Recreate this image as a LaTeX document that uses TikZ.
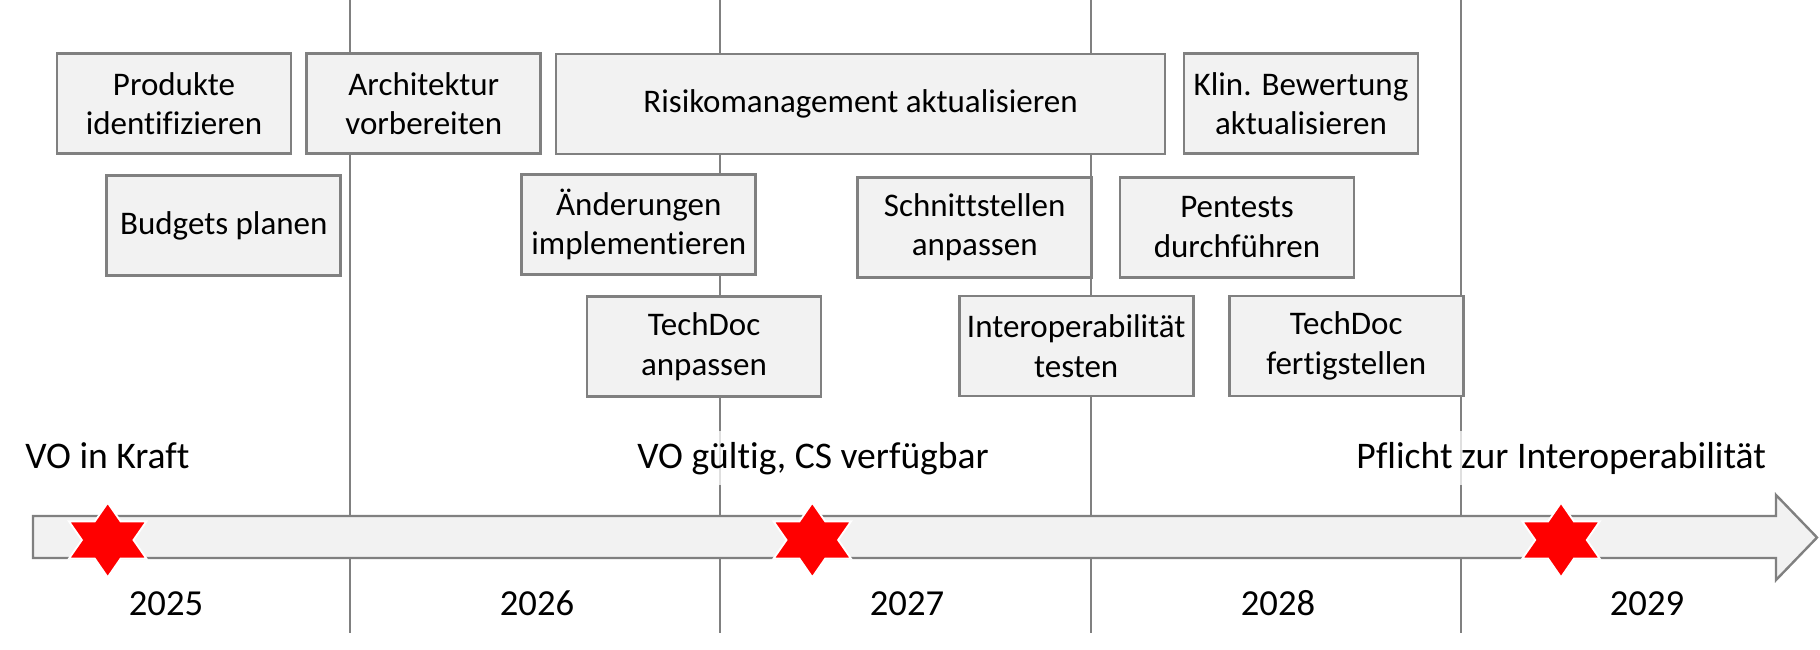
\documentclass[tikz,border=0pt]{standalone}
\usepackage{fontspec}
\setmainfont{Carlito}[Ligatures={NoCommon,NoContextual}]
\definecolor{linegray}{HTML}{808080}
\definecolor{boxfill}{HTML}{F2F2F2}
\definecolor{starred}{HTML}{FF0000}
\tikzset{
  taskbox/.style={draw=linegray, fill=boxfill, line width=1.5pt, align=center,
    inner sep=0pt, minimum width=234*0.5455pt, minimum height=100*0.5455pt,
    font=\fontsize{18}{21.6}\selectfont},
  milestone/.style={anchor=base west, inner xsep=0pt, inner ysep=6pt,
    fill=white, fill opacity=0.75, text opacity=1,
    font=\fontsize{20.5}{24}\selectfont},
  yearlabel/.style={anchor=base, inner sep=0pt, font=\fontsize{20}{24}\selectfont},
  yearline/.style={draw=linegray, line width=1.1pt},
  timearrow/.style={draw=linegray, fill=boxfill, line width=1.3pt, line join=miter},
  hexstar/.pic={
    \fill[starred, draw=white, line width=1pt]
      (90:37.3) -- (60:21.5) -- (30:37.3) -- (0:21.5) -- (-30:37.3) -- (-60:21.5)
      -- (-90:37.3) -- (-120:21.5) -- (-150:37.3) -- (180:21.5) -- (150:37.3)
      -- (120:21.5) -- cycle;
  }
}
\begin{document}
\begin{tikzpicture}[x=0.5455pt, y=-0.5455pt]
\useasboundingbox[fill=white] (0,0) rectangle (1820,650);

% year separator lines
\foreach \xx/\nm in {350/a,720/b,1091/c,1461/d}{
  \coordinate (top\nm) at (\xx,0);
  \coordinate (bot\nm) at (\xx,633);
  \draw[yearline] (top\nm) -- (bot\nm);
}

% milestone labels
\node[milestone] (m1) at (25,468) {VO in Kraft};
\node[milestone] (m2) at (637,468) {VO gültig, CS verfügbar};
\node[milestone] (m3) at (1356,468) {Pflicht zur Interoperabilität};

% task boxes
\node[taskbox] (prod) at (174,103.5) {Produkte\\identifizieren};
\node[taskbox] (arch) at (423.8,103.5) {Architektur\\vorbereiten};
\node[taskbox, minimum width=609*0.5455pt] (risk) at (860.5,104) {Risikomanagement aktualisieren};
\node[taskbox] (klin) at (1301,103.5) {Klin. Bewertung\\aktualisieren};
\node[taskbox] (budg) at (223.8,225.8) {Budgets planen};
\node[taskbox] (aend) at (638.8,224.5) {Änderungen\\implementieren};
\node[taskbox] (schn) at (974.7,227.2) {Schnittstellen\\anpassen};
\node[taskbox] (pent) at (1237,227.2) {Pentests\\durchführen};
\node[taskbox] (tda) at (704,346.8) {TechDoc\\anpassen};
\node[taskbox] (inter) at (1076.2,346) {Interoperabilität\\testen};
\node[taskbox] (tdf) at (1346.2,346) {TechDoc\\fertigstellen};

% time arrow
\draw[timearrow] (33,516) -- (1776,516) -- (1776,495) -- (1817,537.5)
  -- (1776,580) -- (1776,558) -- (33,558) -- cycle;

% stars
\pic[xscale=1.2] (s1) at (107.7,540) {hexstar};
\pic[xscale=1.2] (s2) at (812.3,540) {hexstar};
\pic[xscale=1.2] (s3) at (1561,540) {hexstar};

% years
\node[yearlabel] (y1) at (166,615) {2025};
\node[yearlabel] (y2) at (537,615) {2026};
\node[yearlabel] (y3) at (907,615) {2027};
\node[yearlabel] (y4) at (1278,615) {2028};
\node[yearlabel] (y5) at (1647,615) {2029};
\end{tikzpicture}
\end{document}
